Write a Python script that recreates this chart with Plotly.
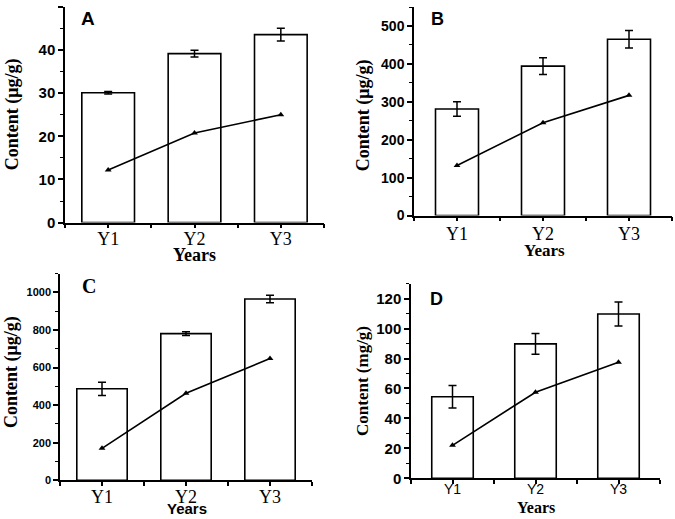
import plotly.graph_objects as go

W, H = 675, 519
# measured vertical compression of the captured page; design y = reference y / K
K = 0.982

years = ["Y1", "Y2", "Y3"]

a_bars = [30.1, 39.2, 43.6]
a_err = [0.3, 0.8, 1.5]
a_line = [12.2, 20.8, 25.0]

b_bars = [281, 394, 465]
b_err = [19, 22, 23]
b_line = [132, 245, 317]

c_bars = [487, 781, 965]
c_err = [35, 10, 20]
c_line = [170, 463, 648]

d_bars = [54.5, 89.8, 109.8]
d_err = [7.5, 7.0, 8.0]
d_line = [22.0, 57.5, 77.5]

SANS = "Liberation Sans, Arial, sans-serif"
SERIF = "Liberation Serif, Times New Roman, serif"


def clamp(v):
    return min(1.0, max(0.0, v))


def fx(x):
    return x / W


def fy(y):
    return 1 - (y / K) / H


xpos = list(range(len(years)))

panels = [
    dict(bars=a_bars, err=a_err, line=a_line, bw=0.61, xpx=(65, 324), ypx=(222, 7),
         yr=[0, 50], dt=10, mdt=5, ytf=15, xso=-5, xtf=dict(family=SERIF, size=18, color="black")),
    dict(bars=b_bars, err=b_err, line=b_line, bw=0.5, xpx=(414, 672), ypx=(215, 7),
         yr=[0, 550], dt=100, mdt=50, ytf=14, xso=-3, xtf=dict(family=SERIF, size=18, color="black")),
    dict(bars=c_bars, err=c_err, line=c_line, bw=0.6, xpx=(60, 312), ypx=(479, 273),
         yr=[0, 1100], dt=200, mdt=100, ytf=11, xso=-5, xtf=dict(family=SERIF, size=18, color="black")),
    dict(bars=d_bars, err=d_err, line=d_line, bw=0.5, xpx=(411, 660), ypx=(477, 283),
         yr=[0, 130], dt=20, mdt=10, ytf=15, xso=-7, xtf=dict(family=SANS, size=14, color="black")),
]

fig = go.Figure()
layout = {}
for i, p in enumerate(panels):
    n = i + 1
    xa = "x" if n == 1 else f"x{n}"
    ya = "y" if n == 1 else f"y{n}"
    fig.add_trace(go.Bar(
        x=xpos, y=p["bars"], width=p["bw"], xaxis=xa, yaxis=ya,
        marker=dict(color="white", line=dict(color="black", width=1.6)),
        error_y=dict(type="data", array=p["err"], color="black", thickness=1.5, width=4),
        showlegend=False, hoverinfo="skip",
    ))
    fig.add_trace(go.Scatter(
        x=xpos, y=p["line"], xaxis=xa, yaxis=ya, mode="lines+markers",
        line=dict(color="black", width=1.6),
        marker=dict(symbol="triangle-up", size=6, color="black"),
        showlegend=False, hoverinfo="skip",
    ))
    xk = "xaxis" if n == 1 else f"xaxis{n}"
    yk = "yaxis" if n == 1 else f"yaxis{n}"
    layout[xk] = dict(
        domain=[clamp(fx(p["xpx"][0])), clamp(fx(p["xpx"][1]))], anchor=ya,
        range=[-0.5, 2.5], tickmode="array", tickvals=xpos, ticktext=years,
        showline=True, linecolor="black", linewidth=1.5, ticks="outside",
        ticklen=4, tickwidth=1.5, tickcolor="black", showgrid=False, zeroline=False,
        tickfont=p["xtf"], ticklabelstandoff=p["xso"],
        minor=dict(ticks="outside", tick0=0.5, dtick=1, ticklen=4, tickwidth=1.5, tickcolor="black"),
    )
    layout[yk] = dict(
        domain=[clamp(fy(p["ypx"][0])), clamp(fy(p["ypx"][1]))], anchor=xa,
        range=p["yr"], dtick=p["dt"], tick0=0,
        showline=True, linecolor="black", linewidth=1.5, ticks="outside",
        ticklen=5, tickwidth=1.5, tickcolor="black", showgrid=False, zeroline=False,
        tickfont=dict(family=SANS, size=p["ytf"], color="black", weight="bold"),
        minor=dict(ticks="outside", dtick=p["mdt"], ticklen=3, tickwidth=1.2, tickcolor="black"),
    )


def ann(text, x, y, family, size, angle=0, weight="bold"):
    return dict(text=text, x=fx(x), y=fy(y), xref="paper", yref="paper",
                showarrow=False, textangle=angle, xanchor="center", yanchor="middle",
                font=dict(family=family, size=size, color="black", weight=weight))


annotations = [
    ann("A", 88, 18, SANS, 19),
    ann("B", 437, 19, SANS, 18),
    ann("C", 89, 285, SERIF, 20),
    ann("D", 436, 298, SANS, 18),
    ann("Content (μg/g)", 12, 114, SERIF, 18, angle=-90),
    ann("Content (μg/g)", 363, 115, SERIF, 18, angle=-90),
    ann("Content (μg/g)", 12, 371, SERIF, 18, angle=-90),
    ann("Content (mg/g)", 362, 380, SERIF, 17, angle=-90),
    ann("Years", 194, 254, SERIF, 18),
    ann("Years", 544, 250, SERIF, 17),
    ann("Years", 187, 507, SANS, 15),
    ann("Years", 536, 506, SERIF, 16),
]

fig.update_layout(
    width=W, height=H, margin=dict(l=0, r=0, t=0, b=0),
    plot_bgcolor="white", paper_bgcolor="white",
    annotations=annotations, barmode="overlay", hovermode=False,
    **layout,
)

fig.write_html("out.html", config={"displayModeBar": False},
               post_script="document.body.style.margin='0';")
